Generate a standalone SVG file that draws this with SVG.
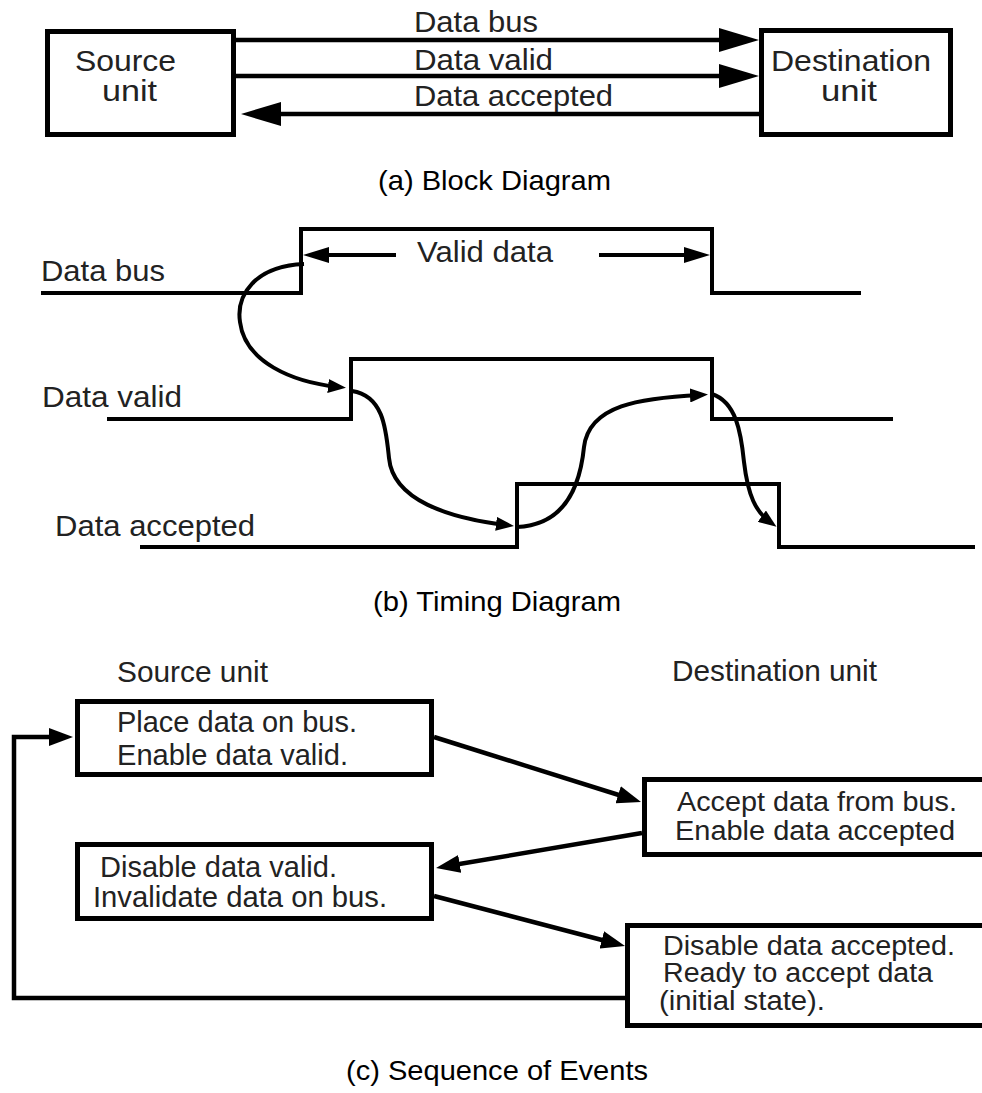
<svg xmlns="http://www.w3.org/2000/svg" width="982" height="1093" viewBox="0 0 982 1093">
  <style>
    text { font-family: "Liberation Sans", Arial, sans-serif; font-size: 29px; fill: #222; }
    .cap { fill: #000; font-size: 28px; }
    .small { font-size: 27px; }
    .box { fill: #fff; stroke: #000; stroke-width: 5; }
    .wire { fill: none; stroke: #000; stroke-width: 4.5; stroke-linejoin: miter; }
    .wave { fill: none; stroke: #000; stroke-width: 4; stroke-linejoin: miter; }
    .curve { fill: none; stroke: #000; stroke-width: 4; }
  </style>
  <defs>
    <marker id="bigHead" viewBox="0 0 40 24" refX="30" refY="12" markerWidth="40" markerHeight="24" markerUnits="userSpaceOnUse" orient="auto">
      <path d="M0,0 L40,12 L0,24 Z" fill="#000"/>
    </marker>
    <marker id="smallHead" viewBox="0 0 26 16" refX="18" refY="8" markerWidth="26" markerHeight="16" markerUnits="userSpaceOnUse" orient="auto">
      <path d="M0,0 L26,8 L0,16 Z" fill="#000"/>
    </marker>
    <marker id="curveHead" viewBox="0 0 18 14" refX="10" refY="7" markerWidth="18" markerHeight="14" markerUnits="userSpaceOnUse" orient="auto">
      <path d="M0,0 L18,7 L0,14 Z" fill="#000"/>
    </marker>
    <marker id="seqHead" viewBox="0 0 24 18" refX="14" refY="9" markerWidth="24" markerHeight="18" markerUnits="userSpaceOnUse" orient="auto">
      <path d="M0,0 L24,9 L0,18 Z" fill="#000"/>
    </marker>
  </defs>

  <!-- (a) Block diagram -->
  <g id="source-unit">
    <rect class="box" x="47.5" y="31.5" width="186" height="103"/>
    <text x="75" y="71" textLength="101" lengthAdjust="spacingAndGlyphs">Source</text>
    <text x="102" y="101" textLength="55" lengthAdjust="spacingAndGlyphs">unit</text>
  </g>
  <g id="destination-unit">
    <rect class="box" x="761.5" y="30.5" width="189" height="104"/>
    <text x="771" y="71" textLength="160" lengthAdjust="spacingAndGlyphs">Destination</text>
    <text x="821" y="101" textLength="56" lengthAdjust="spacingAndGlyphs">unit</text>
  </g>
  <g id="block-connectors">
    <path class="wire" d="M236,40 H749" marker-end="url(#bigHead)"/>
    <path class="wire" d="M236,76 H749" marker-end="url(#bigHead)"/>
    <path class="wire" d="M759,114 H251" marker-end="url(#bigHead)"/>
    <text x="414" y="32" textLength="124" lengthAdjust="spacingAndGlyphs">Data bus</text>
    <text x="414" y="70" textLength="139" lengthAdjust="spacingAndGlyphs">Data valid</text>
    <text x="414" y="106" textLength="199" lengthAdjust="spacingAndGlyphs">Data accepted</text>
  </g>
  <text class="cap" x="378" y="190" textLength="233" lengthAdjust="spacingAndGlyphs">(a) Block Diagram</text>

  <!-- (b) Timing diagram -->
  <g id="timing-data-bus">
    <path class="wave" d="M41,293 H301 V229 H712 V293 H861"/>
    <text x="41" y="281" textLength="124" lengthAdjust="spacingAndGlyphs">Data bus</text>
  </g>
  <g id="timing-data-valid">
    <path class="wave" d="M107,419 H351 V359 H712 V419 H893"/>
    <text x="42" y="407" textLength="140" lengthAdjust="spacingAndGlyphs">Data valid</text>
  </g>
  <g id="timing-data-accepted">
    <path class="wave" d="M140,547 H517 V484 H779 V547 H975"/>
    <text x="55" y="536" textLength="200" lengthAdjust="spacingAndGlyphs">Data accepted</text>
  </g>
  <g id="valid-data-span">
    <path class="wave" d="M396,255 H311" marker-end="url(#smallHead)"/>
    <path class="wave" d="M599,255 H702" marker-end="url(#smallHead)"/>
    <text x="417" y="262" textLength="136" lengthAdjust="spacingAndGlyphs">Valid data</text>
  </g>
  <g id="timing-connectors">
    <path class="curve" d="M304,264 C255,266 236,295 240,322 C245,362 292,382 338,387" marker-end="url(#curveHead)"/>
    <path class="curve" d="M352,391 C384,396 386,430 389,458 C393,500 448,518 506,525" marker-end="url(#curveHead)"/>
    <path class="curve" d="M517,527 C565,525 580,487 584,447 C589,405 640,398 700,395" marker-end="url(#curveHead)"/>
    <path class="curve" d="M712,394 C736,402 741,432 744,462 C748,496 756,512 770,522" marker-end="url(#curveHead)"/>
  </g>
  <text class="cap" x="373" y="611" textLength="248" lengthAdjust="spacingAndGlyphs">(b) Timing Diagram</text>

  <!-- (c) Sequence of events -->
  <text x="117" y="682" textLength="151" lengthAdjust="spacingAndGlyphs">Source unit</text>
  <text x="672" y="681" textLength="205" lengthAdjust="spacingAndGlyphs">Destination unit</text>

  <g id="place-data">
    <rect class="box" x="77.5" y="701.5" width="354" height="73"/>
    <text x="117" y="732" textLength="240" lengthAdjust="spacingAndGlyphs">Place data on bus.</text>
    <text x="117" y="765" textLength="231" lengthAdjust="spacingAndGlyphs">Enable data valid.</text>
  </g>
  <g id="accept-data">
    <rect class="box" x="644.5" y="779.5" width="360" height="75"/>
    <text class="small" x="677" y="811" textLength="280" lengthAdjust="spacingAndGlyphs">Accept data from bus.</text>
    <text class="small" x="675" y="840" textLength="280" lengthAdjust="spacingAndGlyphs">Enable data accepted</text>
  </g>
  <g id="disable-valid">
    <rect class="box" x="77.5" y="844.5" width="354" height="74"/>
    <text x="100" y="877" textLength="237" lengthAdjust="spacingAndGlyphs">Disable data valid.</text>
    <text x="93" y="907" textLength="294" lengthAdjust="spacingAndGlyphs">Invalidate data on bus.</text>
  </g>
  <g id="disable-accepted">
    <rect class="box" x="627.5" y="925.5" width="380" height="100"/>
    <text class="small" x="663" y="955" textLength="292" lengthAdjust="spacingAndGlyphs">Disable data accepted.</text>
    <text class="small" x="663" y="982" textLength="270" lengthAdjust="spacingAndGlyphs">Ready to accept data</text>
    <text class="small" x="659" y="1010" textLength="166" lengthAdjust="spacingAndGlyphs">(initial state).</text>
  </g>
  <g id="sequence-connectors">
    <path class="wire" d="M434,737 L631.5,799" marker-end="url(#seqHead)"/>
    <path class="wire" d="M642,833 L445.9,866.3" marker-end="url(#seqHead)"/>
    <path class="wire" d="M434,896 L615.3,943.5" marker-end="url(#seqHead)"/>
    <path class="wire" d="M625,998 H14 V737 H63" marker-end="url(#seqHead)"/>
  </g>
  <text class="cap" x="346" y="1080" textLength="302" lengthAdjust="spacingAndGlyphs">(c) Sequence of Events</text>
</svg>
